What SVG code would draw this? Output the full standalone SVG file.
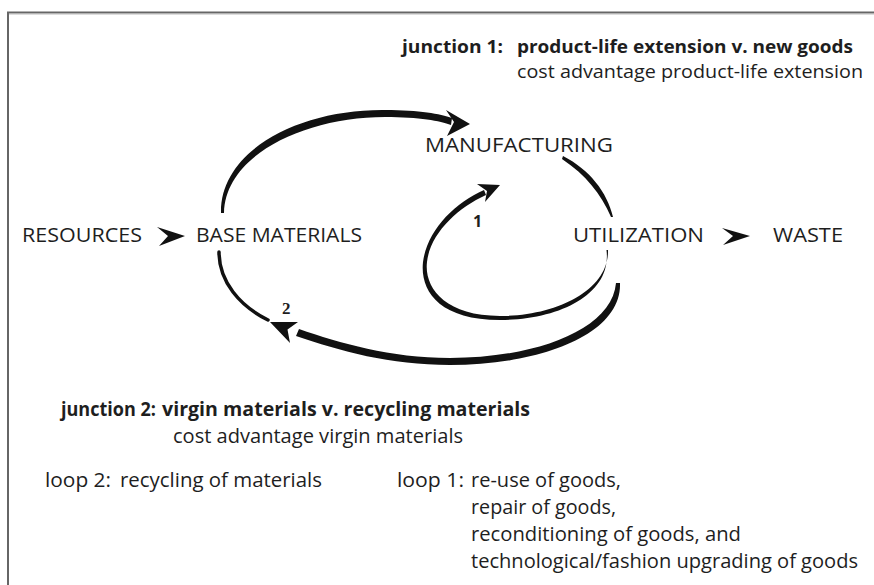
<svg xmlns="http://www.w3.org/2000/svg" width="874" height="585" viewBox="0 0 874 585">
<style>
  .cap { font-family: "Open Sans", "Liberation Sans", sans-serif; font-size: 20px; fill: #1e1e1e; }
  .lbl { font-family: "Open Sans", "Liberation Sans", sans-serif; font-size: 20px; fill: #1e1e1e; }
  .top { font-size: 18px; }
  .b { font-weight: bold; }
  .num { font-family: "Liberation Serif", serif; font-weight: bold; font-size: 17px; fill: #1e1e1e; }
  .num.sans { font-family: "Open Sans", "Liberation Sans", sans-serif; font-size: 16px; }
  .ink { fill: #111; stroke: none; }
  .thin { fill: none; stroke: #111; stroke-linecap: round; }
</style>
<rect width="874" height="585" fill="#fff"/>
<g id="frame">
  <line x1="7" y1="12.5" x2="874" y2="12.5" stroke="#666" stroke-width="2"/>
  <line x1="7" y1="14.5" x2="874" y2="14.5" stroke="#ddd" stroke-width="1"/>
  <line x1="8" y1="12" x2="8" y2="585" stroke="#666" stroke-width="2"/>
</g>
<g id="connectors">
  <!-- base materials -> manufacturing -->
  <path class="ink" d="M 221,213 C 220,150 300,109 385,110 C 420,110 440,114 452,118 L 451,125 C 440,121 420,117 385,117 C 305,117 225,155 224,213 Z"/>
  <polygon class="ink" points="470,124 446,110 454,122 447,136"/>
  <!-- manufacturing -> utilization -->
  <path class="ink" d="M 563,156 C 590,170 607,192 613,217 L 611,217 C 601,194 586,175 562,159 Z"/>
  <!-- base materials down to junction 2 -->
  <path class="thin" stroke-width="3.5" d="M 219,252 C 219,282 240,306 268,320"/>
  <!-- loop 2: utilization -> junction 2 -->
  <path class="ink" d="M 620,283 C 622,335 540,365 450,365 C 390,365 340,351 296,336 L 299,329 C 340,343 390,358 450,358 C 535,358 612,330 616,283 Z"/>
  <polygon class="ink" points="270,322 298,322 287.5,329.4 290,343"/>
  <!-- loop 1: utilization -> manufacturing -->
  <path class="ink" d="M 606.5,250 C 612,294 560,320 500,320 C 438,320 420,290 423,262 C 427,231 454,203 484,190 L 486,195 C 457,208 430,234 427,262 C 424,287 444,316 500,316 C 557,316 609,290 608,250 Z"/>
  <polygon class="ink" points="500,185 477,184 487,191 485,202"/>
  <!-- resources -> base materials -->
  <polygon class="ink" points="185,236 157,227 168,236 159,246"/>
  <!-- utilization -> waste -->
  <polygon class="ink" points="750,236 722,228 733,236 723,245"/>
</g>
<g id="resources"><text class="cap" x="22" y="242" textLength="120" lengthAdjust="spacingAndGlyphs">RESOURCES</text></g>
<g id="base-materials"><text class="cap" x="196" y="242" textLength="166" lengthAdjust="spacingAndGlyphs">BASE MATERIALS</text></g>
<g id="manufacturing"><text class="cap" x="425" y="152" textLength="188" lengthAdjust="spacingAndGlyphs">MANUFACTURING</text></g>
<g id="utilization"><text class="cap" x="573" y="242" textLength="131" lengthAdjust="spacingAndGlyphs">UTILIZATION</text></g>
<g id="waste"><text class="cap" x="773" y="242" textLength="70" lengthAdjust="spacingAndGlyphs">WASTE</text></g>
<g id="loop-numbers">
  <text class="num sans" x="473" y="227">1</text>
  <text class="num" x="282" y="314">2</text>
</g>
<g id="junction-1">
  <text class="lbl top b" x="402" y="53" textLength="101" lengthAdjust="spacingAndGlyphs">junction 1:</text>
  <text class="lbl top b" x="517" y="53" textLength="336" lengthAdjust="spacingAndGlyphs">product-life extension v. new goods</text>
  <text class="lbl top" x="517" y="78" textLength="346" lengthAdjust="spacingAndGlyphs">cost advantage product-life extension</text>
</g>
<g id="junction-2">
  <text class="lbl b" x="61" y="416" textLength="95" lengthAdjust="spacingAndGlyphs">junction 2:</text>
  <text class="lbl b" x="162" y="416" textLength="368" lengthAdjust="spacingAndGlyphs">virgin materials v. recycling materials</text>
  <text class="lbl" x="173" y="443" textLength="290" lengthAdjust="spacingAndGlyphs">cost advantage virgin materials</text>
</g>
<g id="loop-2">
  <text class="lbl" x="45" y="487" textLength="66" lengthAdjust="spacingAndGlyphs">loop 2:</text>
  <text class="lbl" x="120" y="487" textLength="202" lengthAdjust="spacingAndGlyphs">recycling of materials</text>
</g>
<g id="loop-1">
  <text class="lbl" x="397" y="487" textLength="67" lengthAdjust="spacingAndGlyphs">loop 1:</text>
  <text class="lbl" x="471" y="487" textLength="150" lengthAdjust="spacingAndGlyphs">re-use of goods,</text>
  <text class="lbl" x="471" y="514" textLength="145" lengthAdjust="spacingAndGlyphs">repair of goods,</text>
  <text class="lbl" x="471" y="541" textLength="270" lengthAdjust="spacingAndGlyphs">reconditioning of goods, and</text>
  <text class="lbl" x="471" y="568" textLength="387" lengthAdjust="spacingAndGlyphs">technological/fashion upgrading of goods</text>
</g>
</svg>
